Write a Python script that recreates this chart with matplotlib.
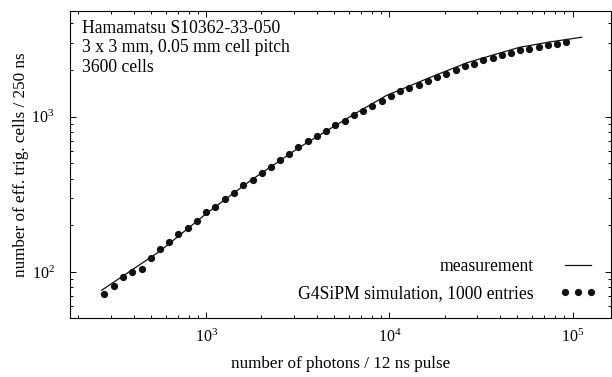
import matplotlib
matplotlib.use("Agg")
import matplotlib.pyplot as plt
from matplotlib.ticker import LogLocator, NullFormatter
from matplotlib.legend_handler import HandlerLine2D

plt.rcParams['font.family'] = ['Liberation Serif', 'DejaVu Serif']
plt.rcParams['mathtext.fontset'] = 'stix'
plt.rcParams['font.size'] = 12.7

# G4SiPM simulation points
sim_photons = [277, 313, 350, 394, 443, 496, 557, 627, 702, 790, 888, 997,
               1117, 1257, 1413, 1588, 1787, 2009, 2257, 2527, 2843, 3184,
               3578, 4023, 4504, 5069, 5695, 6403, 7168, 8067, 9067, 10190,
               11410, 12840, 14430, 16220, 18250, 20440, 22970, 25820, 28910,
               32530, 36560, 41090, 46000, 51780, 58200, 65400, 73600, 82700,
               92600]
sim_cells = [71.8, 81.2, 92.8, 99.6, 105.2, 122.6, 141.6, 154.8, 174.3, 192.2,
             212.4, 243.8, 261.5, 293.2, 323.3, 362.6, 392.3, 433.4, 471.6,
             525.6, 577, 640.4, 700, 754.3, 812, 884, 945, 1023, 1093, 1178,
             1268, 1360, 1458, 1539, 1602, 1707, 1804, 1894, 2001, 2133, 2197,
             2311, 2402, 2512, 2565, 2693, 2734, 2829, 2901, 2958, 3047]

# measurement curve
meas_photons = [268, 557, 1000, 1727, 3236, 6380, 9620, 14610, 18780, 26700,
                37480, 51320, 74800, 112300]
meas_cells = [76.2, 136, 238, 385, 637, 1035, 1370, 1680, 1895, 2235,
              2515, 2800, 3030, 3253]

info = "Hamamatsu S10362-33-050\n3 x 3 mm, 0.05 mm cell pitch\n3600 cells"

fig = plt.figure(figsize=(6.12, 3.77), dpi=100)
ax = fig.add_axes([0.1144, 0.1565, 0.8846, 0.8143])

ax.plot(meas_photons, meas_cells, color='#111111', lw=0.9, label='measurement')
ax.plot(sim_photons, sim_cells, ls='none', marker='o', ms=4.2,
        color='#111111', label='G4SiPM simulation, 1000 entries')

ax.set_xscale('log')
ax.set_yscale('log')
ax.set_xlim(180, 1.63e5)
ax.set_ylim(50.5, 4800)

ax.xaxis.set_major_locator(LogLocator(base=10, numticks=10))
ax.xaxis.set_minor_locator(LogLocator(base=10, subs=range(2, 10), numticks=20))
ax.xaxis.set_minor_formatter(NullFormatter())
ax.yaxis.set_minor_formatter(NullFormatter())
ax.tick_params(which='both', direction='in', top=True, right=True,
               width=0.7, labelsize=11.5)
ax.tick_params(which='major', length=4.5)
ax.tick_params(which='minor', length=2.2)
ax.tick_params(axis='x', which='major', pad=8)
ax.tick_params(axis='y', which='major', pad=11)
for s in ax.spines.values():
    s.set_linewidth(0.8)

ax.set_xlabel('number of photons / 12 ns pulse', fontsize=12.3, labelpad=7)
ax.set_ylabel('number of eff. trig. cells / 250 ns', fontsize=12.3, labelpad=1.5)

ax.text(0.022, 0.972, info, transform=ax.transAxes, va='top', ha='left',
        linespacing=1.2)

ax.legend(loc='lower right', bbox_to_anchor=(0.975, 0.03), frameon=False,
          markerfirst=False, numpoints=3, handlelength=1.45, handletextpad=1.8,
          labelspacing=0.55, borderaxespad=0,
          handler_map={plt.Line2D: HandlerLine2D(marker_pad=0, numpoints=3)})

fig.savefig('out.png', dpi=100)
